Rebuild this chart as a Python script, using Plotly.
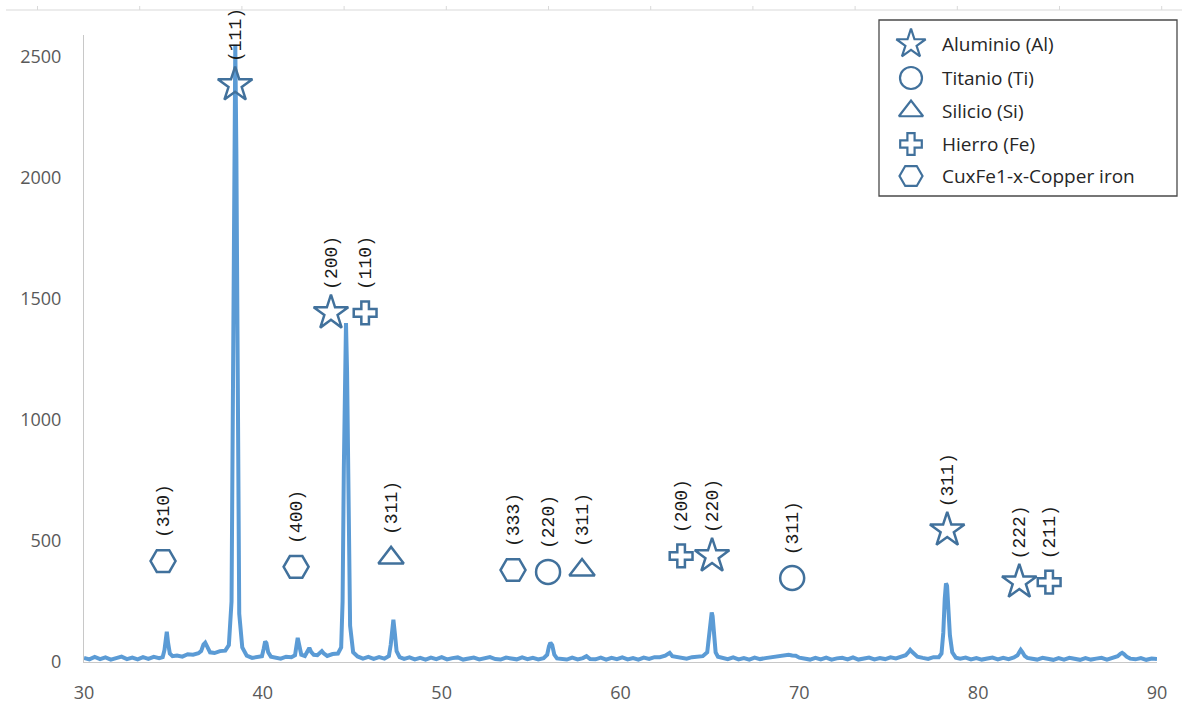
import plotly.graph_objects as go

W, H = 1182, 706

# ---------------- diffraction pattern (2-theta, counts) ----------------
two_theta = [
    30.0, 30.3, 30.6, 30.9, 31.2, 31.5, 31.8, 32.1, 32.4, 32.7, 33.0, 33.3, 33.6, 33.9, 34.2,
    34.4, 34.5, 34.58, 34.63, 34.7, 34.8, 34.95,
    35.2, 35.5, 35.8, 36.1, 36.4,
    36.55, 36.68, 36.78, 36.9, 37.05,
    37.3, 37.6, 37.9, 38.1,
    38.25, 38.33, 38.4, 38.46, 38.52, 38.59, 38.68, 38.85,
    39.1, 39.4, 39.7, 39.95,
    40.05, 40.13, 40.2, 40.3, 40.45,
    40.7, 41.0, 41.3, 41.6, 41.8,
    41.88, 41.95, 42.02, 42.15,
    42.35, 42.5, 42.6, 42.7, 42.85,
    43.05, 43.2, 43.3, 43.4, 43.6, 43.9, 44.2, 44.38,
    44.46, 44.53, 44.6, 44.65, 44.71, 44.78, 44.88, 45.05,
    45.3, 45.6, 45.9, 46.2, 46.5, 46.8, 47.05,
    47.15, 47.23, 47.3, 47.38, 47.48, 47.65,
    47.9, 48.2, 48.5, 48.8, 49.1, 49.4, 49.7, 50.0, 50.3, 50.6, 50.9, 51.2, 51.5, 51.8,
    52.1, 52.4, 52.7, 53.0, 53.3, 53.6, 53.9, 54.2, 54.5, 54.8, 55.1, 55.4, 55.7,
    55.9, 56.0, 56.08, 56.18, 56.3, 56.45,
    56.7, 57.0, 57.3, 57.6, 57.9, 58.1, 58.3, 58.6, 58.9, 59.2, 59.5, 59.8, 60.1, 60.4,
    60.7, 61.0, 61.3, 61.6, 61.9, 62.2, 62.5,
    62.65, 62.75, 62.9,
    63.1, 63.4, 63.7, 64.0, 64.3, 64.6, 64.85,
    64.95, 65.03, 65.1, 65.15, 65.22, 65.32, 65.45,
    65.7, 66.0, 66.3, 66.6, 66.9, 67.2, 67.5, 67.8, 68.1, 68.4, 68.7, 69.0,
    69.2, 69.4, 69.6, 69.8, 70.0,
    70.3, 70.6, 70.9, 71.2, 71.5, 71.8, 72.1, 72.4, 72.7, 73.0, 73.3, 73.6, 73.9, 74.2,
    74.5, 74.8, 75.1, 75.4, 75.7, 75.95,
    76.1, 76.2, 76.3, 76.45, 76.6,
    76.9, 77.2, 77.5, 77.8, 77.95,
    78.05, 78.13, 78.2, 78.26, 78.33, 78.42, 78.55, 78.75,
    79.0, 79.3, 79.6, 79.9, 80.2, 80.5, 80.8, 81.1, 81.4, 81.7, 82.0, 82.2,
    82.3, 82.38, 82.48, 82.6, 82.75,
    83.0, 83.3, 83.6, 83.9, 84.2, 84.5, 84.8, 85.1, 85.4, 85.7, 86.0, 86.3, 86.6, 86.9,
    87.2, 87.5, 87.8,
    87.95, 88.05, 88.15, 88.3, 88.5,
    88.8, 89.1, 89.4, 89.7, 90.0,
]
intensity = [
    17, 11, 21, 12, 19, 10, 16, 22, 12, 18, 11, 20, 13, 21, 16,
    20, 50, 110, 125, 80, 35, 24,
    27, 22, 32, 30, 36,
    45, 72, 80, 60, 40,
    37, 45, 47, 70,
    250, 1100, 2200, 2550, 2100, 900, 200, 60,
    26, 17, 23, 24,
    55, 85, 78, 40, 22,
    19, 14, 22, 20, 28,
    70, 100, 75, 30,
    25, 45, 58, 42, 30,
    28, 38, 45, 36, 25, 33, 35, 60,
    250, 800, 1300, 1400, 1200, 600, 150, 40,
    23, 14, 21, 13, 20, 14, 25,
    70, 150, 175, 120, 45, 20,
    13, 19, 11, 17, 10, 18, 12, 20, 11, 16, 19, 10, 15, 18,
    11, 17, 20, 12, 10, 18, 15, 11, 19, 12, 17, 11, 16,
    30, 65, 80, 70, 30, 15,
    14, 10, 18, 11, 16, 24, 12, 11, 18, 10, 17, 12, 19, 11,
    16, 10, 18, 13, 20, 20, 26,
    34, 38, 24,
    21, 16, 14, 20, 21, 24, 40,
    100, 170, 205, 190, 110, 40, 22,
    17, 12, 19, 11, 16, 10, 18, 12, 16, 19, 22, 26,
    28, 30, 27, 26, 18,
    14, 10, 17, 11, 18, 10, 15, 17, 11, 19, 10, 15, 18, 11,
    16, 12, 19, 15, 21, 28,
    40, 50, 42, 30, 22,
    17, 13, 20, 20, 35,
    120, 260, 325, 315, 230, 110, 40, 18,
    14, 18, 11, 16, 10, 15, 18, 11, 17, 12, 19, 28,
    42, 50, 40, 25, 17,
    14, 10, 17, 11, 9, 16, 10, 17, 11, 9, 16, 10, 14, 17,
    10, 15, 24,
    34, 38, 33, 22, 14,
    11, 16, 9, 14, 12,
]

# ---------------- phase markers (position, height, Miller index) ----------------
al_x = [38.45, 43.81, 65.12, 78.27, 82.30]
al_y = [2384, 1442, 438, 545, 330]
al_hkl = ["(111)", "(200)", "(220)", "(311)", "(222)"]

ti_x = [55.95, 69.60]
ti_y = [372, 347]
ti_hkl = ["(220)", "(311)"]

si_x = [47.17, 57.85]
si_y = [430, 380]
si_hkl = ["(311)", "(311)"]

fe_x = [45.72, 63.39, 83.97]
fe_y = [1442, 438, 330]
fe_hkl = ["(110)", "(200)", "(211)"]

cufe_x = [34.42, 41.86, 53.99]
cufe_y = [417, 393, 380]
cufe_hkl = ["(310)", "(400)", "(333)"]

phase_names = ["Aluminio (Al)", "Titanio (Ti)", "Silicio (Si)", "Hierro (Fe)", "CuxFe1-x-Copper iron"]
phase_symbols = ["star-open", "circle-open", "triangle-up-open", "cross-open", "hexagon2-open"]
phase_sizes = [26, 24, 22, 19, 25]
legend_sizes = [22, 22, 21, 18, 23]

x_ticks = [30, 40, 50, 60, 70, 80, 90]
y_ticks = [0, 500, 1000, 1500, 2000, 2500]

LINE_C = "#5B9BD5"
MARK_C = "#41719C"
AXIS_C = "#C8C8C8"
TICK_C = "#595959"


def px(x):
    return x / W


def py(y):
    return 1 - y / H


fig = go.Figure()

fig.add_trace(go.Scatter(
    x=two_theta, y=intensity, mode="lines",
    line=dict(color=LINE_C, width=4), showlegend=False, hoverinfo="skip",
))

phases = [
    (al_x, al_y, al_hkl),
    (ti_x, ti_y, ti_hkl),
    (si_x, si_y, si_hkl),
    (fe_x, fe_y, fe_hkl),
    (cufe_x, cufe_y, cufe_hkl),
]

annotations = []
for (xs, ys, hkl), sym, sz in zip(phases, phase_symbols, phase_sizes):
    fig.add_trace(go.Scatter(
        x=xs, y=ys, mode="markers", showlegend=False, cliponaxis=False,
        marker=dict(symbol=sym, size=sz, color=MARK_C, line=dict(color=MARK_C, width=2.5)),
    ))
    for xv, yv, t in zip(xs, ys, hkl):
        annotations.append(dict(
            x=xv, y=yv, xref="x", yref="y", text=t, showarrow=False,
            textangle=-90, xanchor="center", yanchor="bottom", yshift=21, xshift=1,
            font=dict(family="Liberation Mono", size=18, color="#1a1a1a"),
        ))

# ---------------- legend drawn in a pixel-coordinate helper subplot ----------------
leg_row_y = [44, 78, 111, 144, 176]
leg_marker_x = 911
leg_text_x = 940
for name, sym, sz, ry in zip(phase_names, phase_symbols, legend_sizes, leg_row_y):
    fig.add_trace(go.Scatter(
        x=[leg_marker_x], y=[ry], xaxis="x2", yaxis="y2", mode="markers",
        showlegend=False, hoverinfo="skip", cliponaxis=False,
        marker=dict(symbol=sym, size=sz, color=MARK_C, line=dict(color=MARK_C, width=2.2)),
    ))
    annotations.append(dict(
        x=leg_text_x, y=ry, xref="x2", yref="y2", text=name, showarrow=False,
        xanchor="left", yanchor="middle",
        font=dict(family="Open Sans", size=19, color="#262626"),
    ))

shapes = [
    dict(type="rect", xref="paper", yref="paper",
         x0=px(879), x1=px(1177), y0=py(196), y1=py(20),
         line=dict(color="#4a4a4a", width=1.3), fillcolor="rgba(0,0,0,0)", layer="below"),
    dict(type="line", xref="paper", yref="paper",
         x0=px(6), x1=px(1182), y0=py(10), y1=py(10),
         line=dict(color="#D9D9D9", width=1)),
]
top_tick_px = [37.5, 139.7, 241.9, 344.1, 446.3, 548.5, 650.7, 752.9, 855.1, 957.3, 1059.5, 1161.7]
for tx in top_tick_px:
    shapes.append(dict(type="line", xref="paper", yref="paper",
                       x0=px(tx), x1=px(tx), y0=py(6), y1=py(10),
                       line=dict(color="#D9D9D9", width=1)))

fig.update_layout(
    template="none",
    width=W, height=H,
    margin=dict(l=0, r=0, t=0, b=0, pad=0, autoexpand=False),
    paper_bgcolor="white", plot_bgcolor="rgba(0,0,0,0)",
    showlegend=False,
    hovermode=False,
    xaxis=dict(
        domain=[px(84), px(1157)], range=[30, 90], tickvals=x_ticks, automargin=False,
        showgrid=False, zeroline=False, showline=True, linecolor=AXIS_C, linewidth=1.2,
        ticks="", ticklabelstandoff=14,
        tickfont=dict(family="Open Sans", size=18, color=TICK_C), anchor="y",
    ),
    yaxis=dict(
        domain=[py(662), py(35)], range=[0, 2590], tickvals=y_ticks, automargin=False,
        showgrid=False, zeroline=False, showline=True, linecolor=AXIS_C, linewidth=1.2,
        ticks="", ticklabelstandoff=18,
        tickfont=dict(family="Open Sans", size=18, color=TICK_C), anchor="x",
    ),
    xaxis2=dict(domain=[0, 1], range=[0, W], visible=False, anchor="y2",
                fixedrange=True, automargin=False),
    yaxis2=dict(domain=[0, 1], range=[H, 0], visible=False, anchor="x2",
                fixedrange=True, automargin=False),
    annotations=annotations,
    shapes=shapes,
)

fig.write_html(
    "out.html",
    config={"displayModeBar": False},
    post_script="document.body.style.margin='0';document.body.style.overflow='hidden';",
)
